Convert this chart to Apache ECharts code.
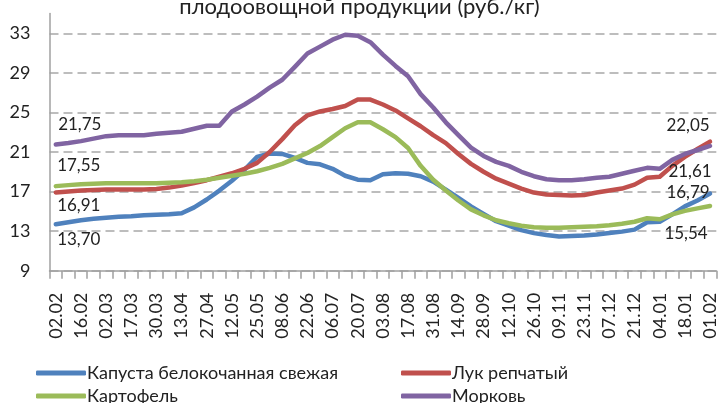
<!DOCTYPE html>
<html><head><meta charset="utf-8">
<script src="https://cdn.jsdelivr.net/npm/echarts@6/dist/echarts.min.js"></script>
<style>html,body{margin:0;padding:0;background:#fff}#c{width:719px;height:403px}</style>
</head><body><div id="c"></div>
<script>
const categories = ['02.02','09.02','16.02','24.02','02.03','10.03','17.03','23.03','30.03','06.04','13.04','20.04','27.04','04.05','12.05','18.05','25.05','01.06','08.06','15.06','22.06','29.06','06.07','13.07','20.07','27.07','03.08','10.08','17.08','24.08','31.08','07.09','14.09','21.09','28.09','05.10','12.10','19.10','26.10','02.11','09.11','16.11','23.11','30.11','07.12','14.12','21.12','28.12','04.01','11.01','18.01','25.01','01.02'];
const cabbage = [13.70,13.9,14.1,14.25,14.35,14.45,14.5,14.6,14.65,14.7,14.8,15.4,16.2,17.1,18.1,19.2,20.5,20.85,20.8,20.4,19.9,19.75,19.3,18.6,18.2,18.15,18.75,18.85,18.8,18.55,18.0,17.2,16.35,15.5,14.75,14.0,13.55,13.1,12.8,12.6,12.45,12.5,12.55,12.65,12.8,12.95,13.15,13.9,13.95,14.7,15.5,16.1,16.79];
const onion = [16.91,17.0,17.1,17.15,17.2,17.2,17.2,17.2,17.25,17.4,17.6,17.85,18.15,18.5,18.85,19.3,19.9,21.0,22.3,23.7,24.7,25.1,25.35,25.65,26.3,26.3,25.8,25.2,24.4,23.6,22.7,21.9,20.8,19.8,19.0,18.3,17.8,17.3,16.9,16.7,16.65,16.6,16.65,16.9,17.1,17.3,17.7,18.4,18.5,19.6,20.5,21.3,22.05];
const potato = [17.55,17.65,17.75,17.8,17.85,17.85,17.85,17.85,17.85,17.9,17.95,18.05,18.2,18.4,18.6,18.8,19.05,19.4,19.8,20.35,20.9,21.6,22.5,23.4,24.0,24.0,23.3,22.5,21.4,19.6,18.2,17.1,16.1,15.2,14.6,14.1,13.8,13.55,13.4,13.35,13.35,13.4,13.45,13.5,13.6,13.75,13.95,14.3,14.2,14.7,15.05,15.3,15.54];
const carrot = [21.75,21.9,22.1,22.35,22.6,22.7,22.7,22.7,22.85,22.95,23.05,23.35,23.65,23.65,25.1,25.8,26.6,27.5,28.3,29.6,30.95,31.65,32.35,32.85,32.75,32.1,30.85,29.7,28.65,26.85,25.5,24.0,22.7,21.45,20.6,20.0,19.6,19.0,18.55,18.25,18.15,18.15,18.25,18.4,18.5,18.8,19.1,19.4,19.3,20.2,20.8,21.2,21.61];
const yTicks = [9,13,17,21,25,29,33];
const seriesNames = ['Капуста белокочанная свежая','Лук репчатый','Картофель','Морковь'];
const titleText = 'плодоовощной продукции (руб./кг)';

const FONT = 'Lato, "Noto Sans", sans-serif';
const TXT = '#222';
const fmt = v => v.toFixed(2).replace('.', ',');
const last = categories.length - 1;

function endLabels(arr, offStart, offEnd) {
  const mk = (i, off) => ({
    coord: [categories[i], arr[i]],
    label: { show: true, position: 'inside', offset: off, formatter: fmt(arr[i]),
             color: TXT, fontSize: 17, fontFamily: FONT }
  });
  return { symbol: 'circle', symbolSize: 1, itemStyle: { color: 'rgba(0,0,0,0)' },
           silent: true, data: [mk(0, offStart), mk(last, offEnd)] };
}

function line(name, data, color, offStart, offEnd) {
  return {
    name, type: 'line', data, showSymbol: false, symbol: 'none',
    lineStyle: { color, width: 4.5, cap: 'round', join: 'round' },
    itemStyle: { color },
    markPoint: endLabels(data, offStart, offEnd)
  };
}

function legendItem(name, left, top) {
  return { left, top, itemWidth: 50, itemHeight: 5, icon: 'roundRect', data: [name],
           textStyle: { fontFamily: FONT, fontSize: 18, color: TXT, padding: [0,0,0,-4] } };
}

const chart = echarts.init(document.getElementById('c'));
chart.setOption({
  animation: false,
  backgroundColor: '#fff',
  title: { text: titleText, left: 'center', top: -9,
           textStyle: { fontFamily: FONT, fontSize: 22, fontWeight: 'normal', color: TXT } },
  grid: { left: 49.5, right: 0, top: 13.5, bottom: 132.3, containLabel: false },
  legend: [
    legendItem(seriesNames[0], 31, 359),
    legendItem(seriesNames[1], 396, 359),
    legendItem(seriesNames[2], 31, 382),
    legendItem(seriesNames[3], 396, 382)
  ],
  xAxis: {
    type: 'category', data: categories, boundaryGap: true,
    axisLine: { lineStyle: { color: '#a0a0a0', width: 1.5 } },
    axisTick: { show: true, interval: 0, length: 8, lineStyle: { color: '#a0a0a0', width: 1.5 } },
    axisLabel: { interval: 1, rotate: 90, fontSize: 18, color: TXT, fontFamily: FONT, margin: 22 }
  },
  yAxis: {
    type: 'value', min: 9, max: 35, interval: 4,
    axisLine: { show: true, lineStyle: { color: '#a0a0a0', width: 1.5 } },
    axisTick: { show: false },
    axisLabel: { fontSize: 18, color: TXT, fontFamily: FONT, margin: 19,
                 formatter: v => yTicks.includes(v) ? String(v) : '' },
    splitLine: { show: true, lineStyle: { color: ['#a8a8a8','#a8a8a8','#a8a8a8','#a8a8a8','#a8a8a8','#a8a8a8','#a8a8a8','rgba(0,0,0,0)'], width: 1.5, type: [9, 5] } }
  },
  series: [
    line(seriesNames[0], cabbage, '#4F81BD', [23, 15], [-22, -1]),
    line(seriesNames[1], onion, '#C0504D', [23, 13], [-22, -16]),
    line(seriesNames[2], potato, '#9BBB59', [23, -21], [-24, 28]),
    line(seriesNames[3], carrot, '#8064A2', [24, -20], [-20, 26])
  ]
});
</script></body></html>
